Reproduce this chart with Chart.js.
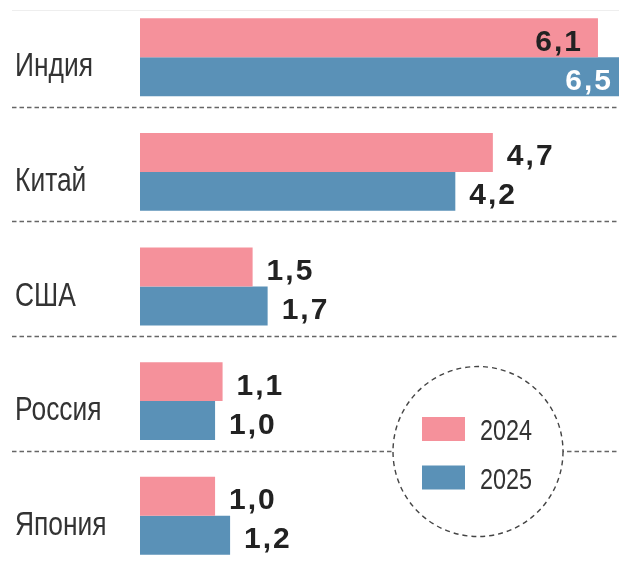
<!DOCTYPE html>
<html>
<head>
<meta charset="utf-8">
<script src="https://cdn.jsdelivr.net/npm/chart.js@4.4.1/dist/chart.umd.min.js"></script>
<style>
html,body{margin:0;padding:0;background:#fff;overflow:hidden;}
#wrap{width:619px;height:567px;position:relative;overflow:hidden;}
canvas{display:block;}
</style>
</head>
<body>
<div id="wrap"><canvas id="c" width="628" height="573"></canvas></div>
<script>
const categories = ['Индия', 'Китай', 'США', 'Россия', 'Япония'];
const seriesNames = ['2024', '2025'];
const values2024 = [6.1, 4.7, 1.5, 1.1, 1.0];
const values2025 = [6.5, 4.2, 1.7, 1.0, 1.2];
const colors = ['#F5919B', '#5A91B7'];

const fmt = v => v.toFixed(1).replace('.', ',');
const condensedText = (ctx, txt, x, y, sx) => {
  ctx.save();
  ctx.translate(x, y);
  ctx.scale(sx, 1);
  ctx.fillText(txt, 0, 0);
  ctx.restore();
};

const decorPlugin = {
  id: 'decor',
  beforeDatasetsDraw(chart) {
    const ctx = chart.ctx;
    const y = chart.scales.y;
    ctx.save();
    ctx.strokeStyle = '#eeeeee';
    ctx.lineWidth = 1;
    ctx.beginPath(); ctx.moveTo(12, 10.5); ctx.lineTo(628, 10.5); ctx.stroke();
    ctx.strokeStyle = '#666';
    ctx.lineWidth = 1.3;
    ctx.setLineDash([4.5, 3]);
    const step = y.getPixelForTick(1) - y.getPixelForTick(0);
    for (let i = 0; i < categories.length - 1; i++) {
      const yy = Math.round(y.getPixelForTick(i) + 0.432 * step) + 0.5;
      ctx.beginPath(); ctx.moveTo(12, yy); ctx.lineTo(628, yy); ctx.stroke();
    }
    ctx.setLineDash([]);
    ctx.font = '33px "Liberation Sans", Arial, sans-serif';
    ctx.fillStyle = '#333';
    ctx.textAlign = 'left';
    ctx.textBaseline = 'alphabetic';
    chart.data.labels.forEach((lab, i) => {
      condensedText(ctx, lab, 15, y.getPixelForTick(i) + 19, 0.8);
    });
    ctx.restore();
  },
  afterDatasetsDraw(chart) {
    const ctx = chart.ctx;
    const area = chart.chartArea;
    ctx.save();
    ctx.font = 'bold 30px "Liberation Sans", Arial, sans-serif';
    ctx.letterSpacing = '2px';
    ctx.textBaseline = 'alphabetic';
    chart.data.datasets.forEach((ds, di) => {
      const meta = chart.getDatasetMeta(di);
      meta.data.forEach((bar, i) => {
        const txt = fmt(ds.data[i]);
        const w = ctx.measureText(txt).width;
        const xEnd = chart.scales.x.getPixelForValue(ds.data[i]);
        const yy = bar.y + 13;
        if (xEnd + 12 + w > area.right) {
          ctx.textAlign = 'right';
          ctx.fillStyle = di === 0 ? '#222' : '#fff';
          ctx.fillText(txt, xEnd - 15, yy);
        } else {
          ctx.textAlign = 'left';
          ctx.fillStyle = '#222';
          ctx.fillText(txt, xEnd + 14, yy);
        }
      });
    });
    ctx.restore();

    ctx.save();
    const cx = 478, cy = 451.5, r = 85;
    ctx.beginPath(); ctx.arc(cx, cy, r, 0, Math.PI * 2);
    ctx.fillStyle = '#fff'; ctx.fill();
    ctx.setLineDash([5, 4]);
    ctx.strokeStyle = '#444'; ctx.lineWidth = 1.4; ctx.stroke();
    ctx.setLineDash([]);
    ctx.font = '30px "Liberation Sans", Arial, sans-serif';
    ctx.textBaseline = 'alphabetic';
    ctx.textAlign = 'left';
    const rows = [429, 477.5];
    seriesNames.forEach((n, k) => {
      ctx.fillStyle = colors[k];
      ctx.fillRect(422, rows[k] - 12, 43, 24);
      ctx.fillStyle = '#333';
      condensedText(ctx, n, 480, rows[k] + 11, 0.78);
    });
    ctx.restore();
  }
};

new Chart(document.getElementById('c'), {
  type: 'bar',
  data: {
    labels: categories,
    datasets: [
      { label: seriesNames[0], data: values2024, backgroundColor: colors[0] },
      { label: seriesNames[1], data: values2025, backgroundColor: colors[1] }
    ]
  },
  options: {
    indexAxis: 'y',
    responsive: false,
    animation: false,
    events: [],
    layout: { padding: { left: 140, top: 0, right: 0, bottom: 0 } },
    datasets: { bar: { categoryPercentage: 0.68, barPercentage: 1.0 } },
    scales: {
      x: { display: false, min: 0, max: 6.5 },
      y: { display: false }
    },
    plugins: { legend: { display: false }, tooltip: { enabled: false } }
  },
  plugins: [decorPlugin]
});
</script>
</body>
</html>
